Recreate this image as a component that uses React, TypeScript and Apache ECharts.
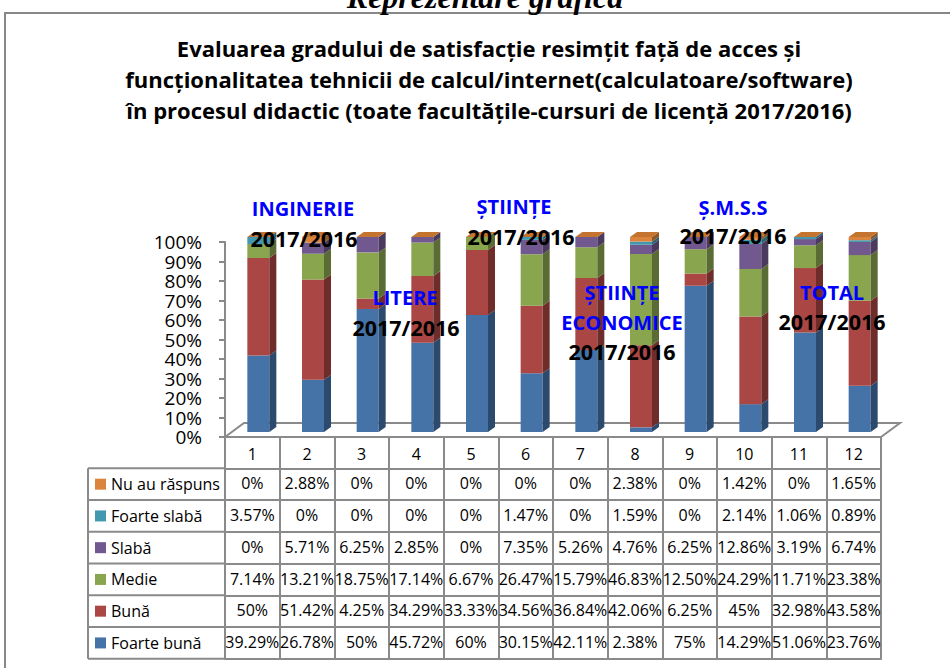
import React, { useEffect, useRef } from 'react';
import * as echarts from 'echarts';

// ---------- data ----------
const categories = ['1', '2', '3', '4', '5', '6', '7', '8', '9', '10', '11', '12'];
const foarteBuna = [39.29, 26.78, 50, 45.72, 60, 30.15, 42.11, 2.38, 75, 14.29, 51.06, 23.76];
const buna = [50, 51.42, 4.25, 34.29, 33.33, 34.56, 36.84, 42.06, 6.25, 45, 32.98, 43.58];
const medie = [7.14, 13.21, 18.75, 17.14, 6.67, 26.47, 15.79, 46.83, 12.5, 24.29, 11.71, 23.38];
const slaba = [0, 5.71, 6.25, 2.85, 0, 7.35, 5.26, 4.76, 6.25, 12.86, 3.19, 6.74];
const foarteSlaba = [3.57, 0, 0, 0, 0, 1.47, 0, 1.59, 0, 2.14, 1.06, 0.89];
const nuAuRaspuns = [0, 2.88, 0, 0, 0, 0, 0, 2.38, 0, 1.42, 0, 1.65];

const seriesNames = ['Foarte bună', 'Bună', 'Medie', 'Slabă', 'Foarte slabă', 'Nu au răspuns'];
const seriesValues = [foarteBuna, buna, medie, slaba, foarteSlaba, nuAuRaspuns];

const yTickLabels = ['0%', '10%', '20%', '30%', '40%', '50%', '60%', '70%', '80%', '90%', '100%'];

const titleLines = [
  'Evaluarea gradului de satisfacție resimțit față de acces și',
  'funcționalitatea tehnicii de calcul/internet(calculatoare/software)',
  'în procesul didactic (toate facultățile-cursuri de licență 2017/2016)',
];
const pageHeading = 'Reprezentare grafică';

const annotations = [
  { text: 'INGINERIE', blue: true, x: 303, y: 208 },
  { text: '2017/2016', blue: false, x: 304, y: 238 },
  { text: 'LITERE', blue: true, x: 405, y: 297 },
  { text: '2017/2016', blue: false, x: 406, y: 327 },
  { text: 'ȘTIINȚE', blue: true, x: 514, y: 206 },
  { text: '2017/2016', blue: false, x: 521, y: 236 },
  { text: 'ȘTIINȚE', blue: true, x: 622, y: 292 },
  { text: 'ECONOMICE', blue: true, x: 622, y: 322 },
  { text: '2017/2016', blue: false, x: 622, y: 351 },
  { text: 'Ș.M.S.S', blue: true, x: 733, y: 207 },
  { text: '2017/2016', blue: false, x: 733, y: 235 },
  { text: 'TOTAL', blue: true, x: 832, y: 292 },
  { text: '2017/2016', blue: false, x: 832, y: 321 },
];

// ---------- styles ----------
const FONT = '"Open Sans", sans-serif';
const frontColors = ['#4572A7', '#AA4643', '#89A54E', '#71588F', '#4198AF', '#DB843D'];
const sideColors = ['#2C4A6E', '#6E2D2B', '#5A6C33', '#4A3A5E', '#2A6372', '#8F5628'];
const TOP_COLOR = '#C4742F';
const LINE = '#8A8A8A';

const GRID_LEFT = 225;
const GRID_RIGHT_X = 881;
const GRID_TOP = 242;
const GRID_BOTTOM_Y = 437;
const W = 950;
const H = 668;

const BAR_W = 22;
const BAR_DX = 6;
const BAR_DY = -5;
const DEPTH_X = 7;
const DEPTH_Y = 5;
const FLOOR_DX = 19;
const FLOOR_DY = 14;

const HEADER_H = 31.3;
const ROW_H = 31.75;
const LEGEND_LEFT = 88;

const fmt = (v: number) => (Number.isInteger(v) ? `${v}%` : `${v.toFixed(2)}%`);

export default function App() {
  const ref = useRef<HTMLDivElement>(null);

  useEffect(() => {
    if (!ref.current) return;
    const chart = echarts.init(ref.current, undefined, { renderer: 'svg' });

    // normalized stacking (100% stacked columns)
    const totals = categories.map((_, i) => seriesValues.reduce((a, s) => a + s[i], 0));
    const cum = categories.map(() => 0);
    const customSeries = seriesValues.map((vals, si) => {
      const data = vals.map((v, i) => {
        const start = cum[i];
        const end = start + (v / totals[i]) * 100;
        cum[i] = end;
        return [i, start, end];
      });
      const isTop = si === seriesValues.length - 1;
      return {
        type: 'custom',
        name: seriesNames[si],
        xAxisIndex: 0,
        yAxisIndex: 0,
        encode: { x: 0, y: [1, 2] },
        data,
        renderItem: (params: any, api: any) => {
          const idx = api.value(0);
          const s = api.coord([idx, api.value(1)]);
          const e = api.coord([idx, api.value(2)]);
          const cx = s[0] + BAR_DX;
          const yb = s[1] + BAR_DY;
          const yt = e[1] + BAR_DY;
          const hw = BAR_W / 2;
          const children: any[] = [];
          if (yb - yt > 0.01) {
            children.push({
              type: 'rect',
              shape: { x: cx - hw, y: yt, width: BAR_W, height: yb - yt },
              style: { fill: frontColors[si] },
            });
            children.push({
              type: 'polygon',
              shape: {
                points: [
                  [cx + hw, yb],
                  [cx + hw + DEPTH_X, yb - DEPTH_Y],
                  [cx + hw + DEPTH_X, yt - DEPTH_Y],
                  [cx + hw, yt],
                ],
              },
              style: { fill: sideColors[si] },
            });
          }
          if (isTop) {
            children.push({
              type: 'polygon',
              shape: {
                points: [
                  [cx - hw, yt],
                  [cx + hw, yt],
                  [cx + hw + DEPTH_X, yt - DEPTH_Y],
                  [cx - hw + DEPTH_X, yt - DEPTH_Y],
                ],
              },
              style: { fill: TOP_COLOR },
            });
          }
          return { type: 'group', children };
        },
      };
    });

    // table rows, top to bottom
    const tableOrder = [5, 4, 3, 2, 1, 0];
    const lineStyle = { color: LINE, width: 2 };

    const xAxes: any[] = [
      {
        type: 'category',
        data: categories,
        position: 'bottom',
        offset: 0,
        axisLine: { show: true, onZero: false, lineStyle },
        axisTick: { show: true, interval: 0, length: HEADER_H, lineStyle },
        axisLabel: { interval: 0, fontSize: 16, margin: 9, color: '#000', fontFamily: FONT },
        splitLine: { show: false },
      },
    ];
    tableOrder.forEach((si, k) => {
      xAxes.push({
        type: 'category',
        data: seriesValues[si].map(fmt),
        position: 'bottom',
        offset: HEADER_H + k * ROW_H,
        axisLine: { show: true, onZero: false, lineStyle },
        axisTick: { show: true, interval: 0, length: ROW_H, lineStyle },
        axisLabel: { interval: 0, fontSize: 16, margin: 7, color: '#000', fontFamily: FONT },
        splitLine: { show: false },
      });
    });
    xAxes.push({
      type: 'category',
      data: categories,
      position: 'bottom',
      offset: HEADER_H + tableOrder.length * ROW_H,
      axisLine: { show: true, onZero: false, lineStyle },
      axisTick: { show: false },
      axisLabel: { show: false },
      splitLine: { show: false },
    });

    const graphics: any[] = [];
    graphics.push({
      type: 'rect',
      silent: true,
      shape: { x: 5, y: 13, width: 1000, height: 700 },
      style: { fill: 'none', stroke: '#878787', lineWidth: 2 },
    });
    graphics.push({
      type: 'text',
      silent: true,
      x: 485,
      y: 13,
      style: {
        text: pageHeading,
        fontFamily: '"Liberation Serif", serif',
        fontStyle: 'italic',
        fontWeight: 'bold',
        fontSize: 32,
        fill: '#000',
        align: 'center',
        verticalAlign: 'bottom',
      },
    });
    titleLines.forEach((t, i) => {
      graphics.push({
        type: 'text',
        silent: true,
        x: 489,
        y: 48 + i * 31,
        style: {
          text: t,
          fontFamily: FONT,
          fontWeight: 'bold',
          fontSize: 22,
          fill: '#000',
          align: 'center',
          verticalAlign: 'middle',
        },
      });
    });
    // floor
    graphics.push({
      type: 'polyline',
      silent: true,
      shape: {
        points: [
          [GRID_LEFT, GRID_BOTTOM_Y],
          [GRID_LEFT + FLOOR_DX, GRID_BOTTOM_Y - FLOOR_DY],
          [GRID_RIGHT_X + FLOOR_DX, GRID_BOTTOM_Y - FLOOR_DY],
          [GRID_RIGHT_X, GRID_BOTTOM_Y],
        ],
      },
      style: { stroke: LINE, lineWidth: 2, fill: 'none' },
    });
    // legend column of the data table
    const tableTop = GRID_BOTTOM_Y + HEADER_H;
    for (let k = 0; k <= tableOrder.length; k++) {
      const y = tableTop + k * ROW_H;
      graphics.push({
        type: 'line',
        silent: true,
        shape: { x1: LEGEND_LEFT, y1: y, x2: GRID_LEFT, y2: y },
        style: { stroke: LINE, lineWidth: 2 },
      });
    }
    graphics.push({
      type: 'line',
      silent: true,
      shape: { x1: LEGEND_LEFT, y1: tableTop, x2: LEGEND_LEFT, y2: tableTop + tableOrder.length * ROW_H },
      style: { stroke: LINE, lineWidth: 2 },
    });
    tableOrder.forEach((si, k) => {
      const cy = tableTop + k * ROW_H + ROW_H / 2;
      graphics.push({
        type: 'rect',
        silent: true,
        shape: { x: 95, y: cy - 5.5, width: 11, height: 11 },
        style: { fill: frontColors[si] },
      });
      graphics.push({
        type: 'text',
        silent: true,
        x: 111,
        y: cy,
        style: {
          text: seriesNames[si],
          fontFamily: FONT,
          fontSize: 16,
          fill: '#000',
          align: 'left',
          verticalAlign: 'middle',
        },
      });
    });
    annotations.forEach((a) => {
      graphics.push({
        type: 'text',
        silent: true,
        z: 100,
        x: a.x,
        y: a.y,
        style: {
          text: a.text,
          fontFamily: FONT,
          fontWeight: 'bold',
          fontSize: a.blue ? 20 : 21.5,
          fill: a.blue ? '#0000FF' : '#000',
          align: 'center',
          verticalAlign: 'middle',
        },
      });
    });

    chart.setOption({
      animation: false,
      backgroundColor: '#fff',
      grid: {
        left: GRID_LEFT,
        right: W - GRID_RIGHT_X,
        top: GRID_TOP,
        bottom: H - GRID_BOTTOM_Y,
        containLabel: false,
      },
      xAxis: xAxes,
      yAxis: [
        {
          type: 'value',
          min: 0,
          max: 100,
          interval: 10,
          axisLine: { show: true, lineStyle },
          axisTick: { show: true, length: 6, lineStyle },
          axisLabel: { show: false },
          splitLine: { show: false },
        },
        {
          type: 'category',
          data: yTickLabels,
          boundaryGap: false,
          position: 'left',
          axisLine: { show: false },
          axisTick: { show: false },
          axisLabel: {
            interval: 0,
            fontSize: 19,
            lineHeight: 19,
            margin: 23,
            color: '#000',
            fontFamily: FONT,
          },
          splitLine: { show: false },
        },
      ],
      series: customSeries,
      graphic: { elements: graphics },
    });

    return () => chart.dispose();
  }, []);

  return (
    <div
      ref={ref}
      style={{ position: 'absolute', left: 0, top: 0, width: W, height: H }}
    />
  );
}
